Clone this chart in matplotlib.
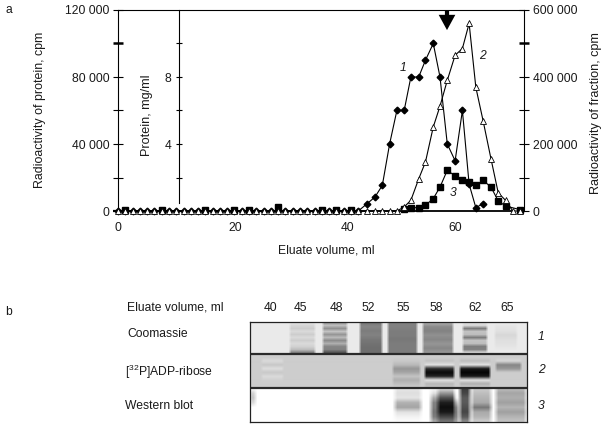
import numpy as np
import matplotlib
matplotlib.use('Agg')
import matplotlib.pyplot as plt

plt.rcParams['font.family'] = ['Liberation Sans', 'DejaVu Sans']
plt.rcParams['mathtext.default'] = 'regular'
plt.rcParams['font.size'] = 8.7
plt.rcParams['text.color'] = '#1a1a1a'
plt.rcParams['xtick.labelcolor'] = '#1a1a1a'
plt.rcParams['ytick.labelcolor'] = '#1a1a1a'

W, H = 608, 436

# eluate volume of each fraction, ml
fractions = [0, 1.3, 2.6, 3.9, 5.2, 6.5, 7.8, 9.1, 10.4, 11.7, 13, 14.3, 15.6, 16.9,
             18.2, 19.5, 20.8, 22.1, 23.4, 24.7, 26, 27.3, 28.6, 29.9, 31.2, 32.5, 33.8,
             35.1, 36.4, 37.7, 39, 40.3, 41.6, 42.9, 44.5, 45.9, 47.2, 48.5, 49.8, 51.1,
             52.3, 53.7, 54.9, 56.3, 57.5, 58.8, 60.2, 61.5, 62.7, 63.9, 65.2, 66.6,
             67.9, 69.2, 70.5, 71.8]

# curve 2, cpm on the right axis
fraction_cpm = [0] * 39 + [12000, 32000, 96000, 146000, 251000, 313000, 390000, 465000,
                           485000, 560000, 369000, 269000, 156000, 54000, 32000, 0, 0]

# curve 1, cpm on the left axis
protein_ml = fractions[:51]
protein_cpm = [0] * 34 + [4400, 8400, 15300, 40000, 60000, 60000, 80000, 80000, 90000,
                          100000, 80000, 40000, 30000, 60000, 16000, 2000, 4400]

# curve 3, baseline fractions first, then the peak
blot_base_ml = [1.3, 7.8, 15.6, 20.8, 23.4, 28.6, 36.4, 39, 41.6]
blot_base_cpm = [800, 800, 800, 800, 800, 2500, 800, 800, 800]
blot_ml = [51.1, 52.3, 53.7, 54.9, 56.3, 57.5, 58.8, 60.2, 61.5, 62.7, 63.9, 65.2, 66.6,
           67.9, 69.2, 71.8]
blot_cpm = [1000, 2000, 2000, 3400, 7400, 14300, 24300, 20900, 18300, 17300, 15300, 18300,
            14300, 6000, 3000, 800]

left_ticks = [0, 20000, 40000, 60000, 80000, 100000, 120000]
left_labels = ['0', '', '40 000', '', '80 000', '', '120 000']
right_ticks = [0, 100000, 200000, 300000, 400000, 500000, 600000]
right_labels = ['0', '', '200 000', '', '400 000', '', '600 000']
protein_ticks = [2, 4, 6, 8, 10]
protein_labels = ['', '4', '', '8', '']
volume_ticks = [0, 21, 40.9, 60.2]
volume_labels = ['0', '20', '40', '60']

lane_names = ['40', '45', '48', '52', '55', '58', '62', '65']
lane_x = [270, 300, 336, 368, 403, 436, 475, 507]

# gel strips: (first px, last px, grey values from top to bottom of the strip)
coomassie = [
    (288, 316, [228, 215, 205, 218, 205, 218, 205, 218, 210, 190, 130]),
    (321, 348, [150, 190, 145, 195, 150, 185, 140, 175, 135, 130, 85]),
    (358, 383, [120, 135, 125, 130, 120, 115, 110, 110]),
    (386, 418, [130, 130, 125, 125, 120, 125, 125, 125]),
    (421, 454, [175, 140, 130, 145, 135, 150, 135, 150]),
    (461, 488, [225, 215, 125, 195, 190, 125, 195, 190, 125, 130, 215]),
    (493, 518, [236, 228, 225, 215, 222, 225, 230, 236]),
]
adp_ribose = [
    (260, 284, [205, 205, 218, 200, 222, 200, 218, 208, 205, 205]),
    (391, 421, [205, 205, 200, 185, 150, 165, 195, 175, 190, 205]),
    (423, 455, [205, 205, 195, 225, 45, 10, 35, 225, 185, 195]),
    (458, 491, [205, 205, 190, 225, 25, 5, 25, 225, 175, 205]),
    (494, 522, [205, 205, 215, 135, 150, 205, 205, 205, 205, 205]),
]
western = [
    (248, 257, [255, 200, 185, 210, 255, 255, 255, 255]),
    (392, 423, [232, 222, 228, 178, 165, 225, 242, 252]),
    (428, 458, [250, 225, 170, 130, 125, 115, 125, 170]),
    (435, 457, [225, 150, 80, 30, 15, 25, 70, 120]),
    (452, 460, [255, 255, 250, 180, 120, 110, 120, 150]),
    (457, 472, [60, 70, 90, 90, 80, 70, 90, 140]),
    (469, 493, [205, 190, 180, 170, 120, 170, 180, 205]),
    (493, 528, [190, 165, 175, 160, 180, 160, 180, 195]),
]


def px_axes(x0, y0, x1, y1):
    return [x0 / W, 1 - y1 / H, (x1 - x0) / W, (y1 - y0) / H]


def label(x, y, s, **kw):
    kw.setdefault('ha', 'left')
    kw.setdefault('va', 'center')
    fig.text(x / W, 1 - y / H, s, **kw)


def strip_image(lanes, bg, height, soft):
    rows = np.linspace(0, 1, height)
    cols = np.arange(250, 527)
    img = np.full((height, cols.size), float(bg))
    for x0, x1, grey in lanes:
        mask = np.clip(np.minimum(cols - x0, x1 - cols) / soft, 0, 1)
        profile = np.interp(rows, np.linspace(0, 1, len(grey)), grey)
        img = img * (1 - mask) + np.outer(profile, mask)
    return img


fig = plt.figure(figsize=(W / 100, H / 100), dpi=100)

ax = fig.add_axes(px_axes(118, 10, 523.5, 211))
ax.set_xlim(0, 405.5 / 5.6)
ax.set_ylim(0, 120000)
ax.patch.set_visible(False)
ax.spines['right'].set_visible(False)
ax.spines['bottom'].set_bounds(0, 70.5)
ax.spines['bottom'].set_linewidth(1.3)
ax.set_xticks(volume_ticks, volume_labels)
ax.tick_params(axis='x', length=0, pad=8)
ax.set_yticks(left_ticks, left_labels)
ax.tick_params(axis='y', direction='inout', length=7.5, width=0.8, pad=2.5)
ax.yaxis.get_major_ticks()[5].tick1line.set_markeredgewidth(1.8)
ax.yaxis.get_major_ticks()[0].tick1line.set_markeredgewidth(1.6)

ax.plot(protein_ml, protein_cpm, '-D', color='black', lw=0.8, ms=3.4, clip_on=False)
ax.plot(blot_base_ml, blot_base_cpm, 's', color='black', ms=4.6, clip_on=False)
ax.plot(blot_ml, blot_cpm, '-s', color='black', lw=0.8, ms=4.8, clip_on=False)

ax_right = ax.twinx()
ax_right.set_ylim(0, 600000)
ax_right.patch.set_visible(False)
for side in ['left', 'top', 'bottom']:
    ax_right.spines[side].set_visible(False)
ax_right.set_yticks(right_ticks, right_labels)
ax_right.tick_params(axis='y', direction='inout', length=7.5, width=0.8, pad=3)
ax_right.yaxis.get_major_ticks()[5].tick2line.set_markeredgewidth(1.8)
ax_right.plot(fractions, fraction_cpm, '-^', color='black', mfc='white', mew=0.6, lw=0.8,
              ms=5.0, clip_on=False)

# protein scale stands inside the plot
ax_protein = ax.twinx()
ax_protein.set_ylim(0, 12)
ax_protein.patch.set_visible(False)
for side in ['right', 'top', 'bottom']:
    ax_protein.spines[side].set_visible(False)
ax_protein.spines['left'].set_visible(True)
ax_protein.spines['left'].set_position(('data', 10.9))
ax_protein.spines['left'].set_bounds(0.45, 12)
ax_protein.yaxis.set_ticks_position('left')
ax_protein.yaxis.set_label_position('left')
ax_protein.set_yticks(protein_ticks, protein_labels)
ax_protein.tick_params(axis='y', direction='inout', length=5, width=0.8, pad=3)

ax.annotate('', xy=(58.75, 108000), xytext=(58.75, 120000), annotation_clip=False,
            arrowprops=dict(facecolor='black', edgecolor='none', width=3, headwidth=12,
                            headlength=11, shrink=0))

label(5, 10, 'a')
label(5, 312, 'b')
label(40, 110, 'Radioactivity of protein, cpm', rotation=90, ha='center', fontsize=8.9)
label(147, 115, 'Protein, mg/ml', rotation=90, ha='center', fontsize=9.1)
label(596, 113, 'Radioactivity of fraction, cpm', rotation=90, ha='center', fontsize=9.1)
label(326, 250, 'Eluate volume, ml', ha='center')
label(403, 68, '1', style='italic', ha='center')
label(482, 56, '2', style='italic', ha='center')
label(453, 193, '3', style='italic', ha='center')

# gel panel
gel = fig.add_axes(px_axes(250, 322, 527, 422))
gel.set_xticks([])
gel.set_yticks([])
for spine in gel.spines.values():
    spine.set_linewidth(0.9)
    spine.set_color('#222222')
for lanes, bg, y0, y1, soft in [(coomassie, 235, 322, 353, 3.0), (adp_ribose, 205, 354, 388, 3.0),
                                (western, 255, 388, 422, 5.0)]:
    gel.imshow(strip_image(lanes, bg, y1 - y0, soft), cmap='gray', vmin=0, vmax=255,
               aspect='auto', extent=(250, 527, y1, y0), interpolation='bilinear')
gel.set_xlim(250, 527)
gel.set_ylim(422, 322)
gel.axhline(353.5, color='#2a2a2a', lw=1.6)
gel.axhline(388.3, color='#2a2a2a', lw=1.6)

label(127, 308, 'Eluate volume, ml')
for name, x in zip(lane_names, lane_x):
    label(x, 308, name, ha='center')
label(127, 334, 'Coomassie')
label(125, 372, r'[$^{32}$P]ADP-ribose')
label(125, 406, 'Western blot')
label(541, 337, '1', style='italic', ha='center')
label(541, 370, '2', style='italic', ha='center')
label(541, 406, '3', style='italic', ha='center')

fig.savefig('out.png', dpi=100)
